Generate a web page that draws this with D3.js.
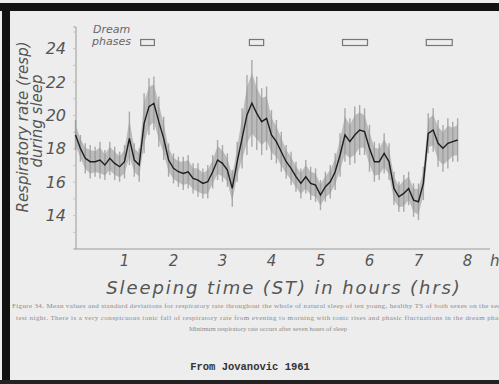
<!DOCTYPE html>
<html><head><meta charset="utf-8">
<script src="https://cdn.jsdelivr.net/npm/d3@7"></script>
<style>
html,body{margin:0;padding:0;background:#ececec;}
svg{display:block;}
</style></head>
<body><svg id="c" width="499" height="384"></svg>
<script>
// time in hours, step 0.1 h
const hours = d3.range(0, 7.85, 0.1).map(v => +v.toFixed(1));
const meanResp = [18.8,18.0,17.4,17.2,17.2,17.3,17.0,17.4,17.1,16.9,
  17.2,18.6,17.3,17.0,19.5,20.5,20.7,19.6,18.6,17.3,
  16.8,16.6,16.5,16.6,16.2,16.1,15.9,16.0,16.6,17.3,
  17.1,16.7,15.6,17.2,18.6,20.0,20.7,20.1,19.6,19.8,
  18.8,18.4,17.8,17.2,16.8,16.3,15.9,16.3,15.9,15.8,
  15.2,15.7,16.0,16.6,17.6,18.8,18.4,18.8,19.1,19.0,
  18.0,17.2,17.2,17.7,17.2,15.6,15.1,15.3,15.6,14.9,
  14.8,15.9,18.9,19.1,18.3,18.0,18.3,18.4,18.5];
const sdResp = [0.9,0.8,0.9,1.0,0.9,1.1,0.9,1.0,1.0,0.9,
  1.0,1.6,1.0,1.0,1.8,1.7,1.6,1.5,1.3,1.0,
  0.9,0.9,1.0,1.0,0.9,1.0,0.9,1.0,1.0,1.2,
  1.1,1.0,1.1,1.2,1.8,2.4,2.6,2.2,2.0,1.9,
  1.5,1.3,1.2,1.0,1.0,0.9,0.9,1.0,1.0,1.0,
  0.9,0.9,1.0,1.1,1.3,1.6,1.4,1.7,1.5,1.4,
  1.4,1.2,1.1,1.2,1.1,1.0,0.9,1.1,1.0,1.0,
  1.1,1.0,1.2,1.3,1.4,1.4,1.5,1.2,1.3];
const dreamStart = [1.33, 3.55, 5.45, 7.16];
const dreamEnd   = [1.61, 3.84, 5.96, 7.69];
const yTicks = [14, 16, 18, 20, 22, 24];
const xTicks = [1, 2, 3, 4, 5, 6, 7, 8];
const captionLines = [
  "Figure 34. Mean values and standard deviations for respiratory rate throughout the whole of natural sleep of ten young, healthy TS of both sexes on the second",
  "test night. There is a very conspicuous tonic fall of respiratory rate from evening to morning with tonic rises and phasic fluctuations in the dream phases",
  "Minimum respiratory rate occurs after seven hours of sleep"
];

const data = hours.map((h, i) => ({h, m: meanResp[i], s: sdResp[i]}));
const svg = d3.select("#c");
const W = 499, H = 384;

// photo frame
svg.append("rect").attr("width", W).attr("height", H).attr("fill", "#ededed");
svg.append("rect").attr("x", 0).attr("y", 3).attr("width", W).attr("height", 8).attr("fill", "#111");
svg.append("rect").attr("x", 2).attr("y", 3).attr("width", 8).attr("height", H).attr("fill", "#111");
svg.append("rect").attr("x", 0).attr("y", 380).attr("width", W).attr("height", 4).attr("fill", "#222");

const x = d3.scaleLinear().domain([0, 8.45]).range([75.5, 489.5]);
const y = d3.scaleLinear().domain([12, 25.3]).range([248.5, 26.5]);

const ink = "#555";
const font = "'DejaVu Sans', sans-serif";

// axes
const yAxis = svg.append("g").attr("transform", `translate(${x(0)},0)`)
  .call(d3.axisLeft(y).tickValues(d3.range(13, 26, 1)).tickSize(2).tickFormat(""));
yAxis.select(".domain").attr("stroke", "#9a9a9a");
yAxis.selectAll(".tick line").attr("stroke", "#bbb");
const xAxis = svg.append("g").attr("transform", `translate(0,${y(12)})`)
  .call(d3.axisBottom(x).tickValues(xTicks).tickSize(0).tickFormat(""));
xAxis.select(".domain").attr("stroke", "#9a9a9a");

svg.append("g").selectAll("text").data(yTicks).join("text")
  .attr("x", 66).attr("y", d => y(d) + 6).attr("text-anchor", "end")
  .attr("font-family", font).attr("font-style", "italic").attr("font-size", 16)
  .attr("fill", ink).text(d => d);
svg.append("g").selectAll("text").data(xTicks).join("text")
  .attr("x", d => x(d)).attr("y", 266).attr("text-anchor", "middle")
  .attr("font-family", font).attr("font-style", "italic").attr("font-size", 15)
  .attr("fill", ink).text(d => d);
svg.append("text").attr("x", 490).attr("y", 266)
  .attr("font-family", font).attr("font-style", "italic").attr("font-size", 15)
  .attr("fill", ink).text("hrs");

// SD band
svg.append("path").datum(data)
  .attr("d", d3.area().x(d => x(d.h)).y0(d => y(d.m - d.s * 0.7)).y1(d => y(d.m + d.s * 0.7)))
  .attr("fill", "#a9a9a9").attr("opacity", 0.75);
svg.append("g").selectAll("line").data(data).join("line")
  .attr("x1", d => x(d.h)).attr("x2", d => x(d.h))
  .attr("y1", d => y(d.m - d.s)).attr("y2", d => y(d.m + d.s))
  .attr("stroke", "#999").attr("stroke-width", 1.4).attr("opacity", 0.8);

// mean line
svg.append("path").datum(data)
  .attr("d", d3.line().x(d => x(d.h)).y(d => y(d.m)))
  .attr("fill", "none").attr("stroke", "#1e1e1e").attr("stroke-width", 1.4);

// dream phases
svg.append("g").selectAll("rect").data(dreamStart).join("rect")
  .attr("x", d => x(d)).attr("y", 39.5)
  .attr("width", (d, i) => x(dreamEnd[i]) - x(d)).attr("height", 6)
  .attr("fill", "none").attr("stroke", "#777").attr("stroke-width", 1.2);
svg.append("text").attr("x", 93).attr("y", 33)
  .attr("font-family", font).attr("font-style", "italic").attr("font-size", 11)
  .attr("fill", "#666").text("Dream");
svg.append("text").attr("x", 92).attr("y", 45)
  .attr("font-family", font).attr("font-style", "italic").attr("font-size", 11)
  .attr("fill", "#666").text("phases");

// y title
svg.append("text").attr("transform", "translate(28,127) rotate(-90)")
  .attr("text-anchor", "middle").attr("font-family", font).attr("font-style", "italic")
  .attr("font-size", 15).attr("fill", ink).text("Respiratory rate (resp)");
svg.append("text").attr("transform", "translate(42,121) rotate(-90)")
  .attr("text-anchor", "middle").attr("font-family", font).attr("font-style", "italic")
  .attr("font-size", 15).attr("fill", ink).text("during sleep");

// x title
svg.append("text").attr("x", 284).attr("y", 294).attr("text-anchor", "middle")
  .attr("font-family", font).attr("font-style", "italic").attr("font-size", 18)
  .attr("letter-spacing", 1.9).attr("fill", ink).text("Sleeping time (ST) in hours (hrs)");

// caption
const capFont = "'Liberation Serif', serif";
svg.append("text").attr("x", 12).attr("y", 308).attr("font-family", capFont)
  .attr("font-size", 7).attr("textLength", 500).attr("lengthAdjust", "spacing")
  .attr("fill", "#8a8a8a").text(captionLines[0]);
svg.append("text").attr("x", 16).attr("y", 320).attr("font-family", capFont)
  .attr("font-size", 7).attr("textLength", 492).attr("lengthAdjust", "spacing")
  .attr("fill", "#8a8a8a").text(captionLines[1]);
svg.append("text").attr("x", 268).attr("y", 331).attr("text-anchor", "middle").attr("font-family", capFont)
  .attr("font-size", 6.7).attr("fill", "#8a8a8a").text(captionLines[2]);

svg.append("text").attr("x", 250).attr("y", 370).attr("text-anchor", "middle")
  .attr("font-family", "'Liberation Mono', monospace").attr("font-weight", "bold")
  .attr("font-size", 10.5).attr("fill", "#333").text("From Jovanovic 1961");
</script></body></html>
